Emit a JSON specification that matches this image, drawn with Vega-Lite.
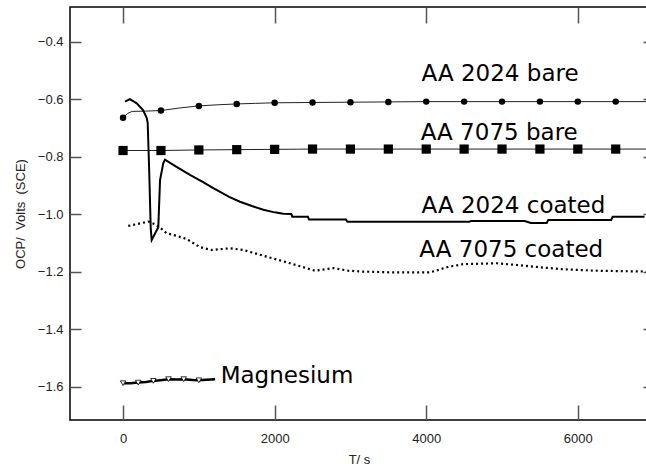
{
  "$schema": "https://vega.github.io/schema/vega-lite/v6.json",
  "width": 578,
  "height": 413,
  "autosize": {"type": "none"},
  "padding": {"left": 70, "top": 7, "right": 0, "bottom": 51},
  "background": "white",
  "config": {
    "view": {"stroke": "#000", "strokeWidth": 1.5},
    "axis": {"grid": false}
  },
  "datasets": {
    "b2024": [
      {"t": 0, "v": -0.665}, {"t": 60, "v": -0.65}, {"t": 120, "v": -0.643}, {"t": 300, "v": -0.642},
      {"t": 500, "v": -0.64}, {"t": 750, "v": -0.631}, {"t": 1000, "v": -0.624}, {"t": 1250, "v": -0.62},
      {"t": 1500, "v": -0.617}, {"t": 1750, "v": -0.615}, {"t": 2000, "v": -0.613}, {"t": 2500, "v": -0.612},
      {"t": 3000, "v": -0.611}, {"t": 3500, "v": -0.61}, {"t": 4000, "v": -0.609}, {"t": 4500, "v": -0.609},
      {"t": 5000, "v": -0.609}, {"t": 5500, "v": -0.609}, {"t": 6000, "v": -0.609}, {"t": 6500, "v": -0.609},
      {"t": 6926, "v": -0.609}
    ],
    "b7075": [
      {"t": 0, "v": -0.779}, {"t": 500, "v": -0.779}, {"t": 1000, "v": -0.777}, {"t": 1500, "v": -0.776},
      {"t": 2000, "v": -0.775}, {"t": 2500, "v": -0.774}, {"t": 3000, "v": -0.774}, {"t": 3500, "v": -0.774},
      {"t": 4000, "v": -0.774}, {"t": 4500, "v": -0.774}, {"t": 5000, "v": -0.774}, {"t": 5500, "v": -0.774},
      {"t": 6000, "v": -0.774}, {"t": 6500, "v": -0.774}, {"t": 6926, "v": -0.774}
    ],
    "c2024": [
      {"t": 25, "v": -0.609}, {"t": 90, "v": -0.6}, {"t": 180, "v": -0.615}, {"t": 263, "v": -0.638},
      {"t": 312, "v": -0.665}, {"t": 325, "v": -0.683}, {"t": 345, "v": -0.85}, {"t": 365, "v": -1.05},
      {"t": 378, "v": -1.09}, {"t": 465, "v": -1.046}, {"t": 488, "v": -0.882}, {"t": 531, "v": -0.823},
      {"t": 553, "v": -0.811}, {"t": 700, "v": -0.835}, {"t": 883, "v": -0.864}, {"t": 1050, "v": -0.888},
      {"t": 1191, "v": -0.91}, {"t": 1400, "v": -0.94}, {"t": 1543, "v": -0.957}, {"t": 1700, "v": -0.972},
      {"t": 1851, "v": -0.985}, {"t": 2000, "v": -0.994}, {"t": 2115, "v": -0.999}, {"t": 2220, "v": -1.0},
      {"t": 2233, "v": -1.009}, {"t": 2440, "v": -1.009}, {"t": 2453, "v": -1.019}, {"t": 2940, "v": -1.019},
      {"t": 2960, "v": -1.027}, {"t": 4570, "v": -1.027}, {"t": 4590, "v": -1.024}, {"t": 5300, "v": -1.024},
      {"t": 5380, "v": -1.031}, {"t": 5590, "v": -1.031}, {"t": 5610, "v": -1.021}, {"t": 6440, "v": -1.021},
      {"t": 6460, "v": -1.009}, {"t": 6880, "v": -1.009}
    ],
    "c7075": [
      {"t": 69, "v": -1.041}, {"t": 200, "v": -1.034}, {"t": 333, "v": -1.026}, {"t": 420, "v": -1.035},
      {"t": 510, "v": -1.052}, {"t": 576, "v": -1.067}, {"t": 700, "v": -1.075}, {"t": 840, "v": -1.087},
      {"t": 1015, "v": -1.115}, {"t": 1170, "v": -1.125}, {"t": 1411, "v": -1.119}, {"t": 1587, "v": -1.125},
      {"t": 1895, "v": -1.148}, {"t": 2203, "v": -1.171}, {"t": 2533, "v": -1.197}, {"t": 2775, "v": -1.188},
      {"t": 2973, "v": -1.197}, {"t": 3170, "v": -1.2}, {"t": 3600, "v": -1.203}, {"t": 4050, "v": -1.203},
      {"t": 4270, "v": -1.185}, {"t": 4490, "v": -1.174}, {"t": 4930, "v": -1.171}, {"t": 5194, "v": -1.177},
      {"t": 5500, "v": -1.185}, {"t": 5810, "v": -1.192}, {"t": 6250, "v": -1.197}, {"t": 6926, "v": -1.2}
    ],
    "mg": [
      {"t": 0, "v": -1.588}, {"t": 100, "v": -1.588}, {"t": 200, "v": -1.586}, {"t": 300, "v": -1.584},
      {"t": 400, "v": -1.58}, {"t": 520, "v": -1.577}, {"t": 600, "v": -1.574}, {"t": 720, "v": -1.575},
      {"t": 800, "v": -1.574}, {"t": 920, "v": -1.577}, {"t": 1000, "v": -1.578}, {"t": 1100, "v": -1.576},
      {"t": 1215, "v": -1.574}
    ],
    "labels": [
      {"label": "AA 2024 bare", "t": 3938, "v": -0.539},
      {"label": "AA 7075 bare", "t": 3927, "v": -0.744},
      {"label": "AA 2024 coated", "t": 3938, "v": -0.997},
      {"label": "AA 7075 coated", "t": 3909, "v": -1.15},
      {"label": "Magnesium", "t": 1288, "v": -1.588}
    ]
  },
  "encoding": {
    "x": {"field": "t", "type": "quantitative", "scale": {"domain": [-700, 6926], "nice": false, "zero": false}},
    "y": {"field": "v", "type": "quantitative", "scale": {"domain": [-1.716, -0.28], "nice": false, "zero": false}}
  },
  "layer": [
    {
      "data": {"name": "b2024"},
      "mark": {"type": "line", "color": "#222", "strokeWidth": 1},
      "encoding": {
        "x": {"field": "t", "type": "quantitative", "axis": {
          "orient": "bottom", "values": [0, 2000, 4000, 6000], "format": "d",
          "domain": false, "offset": -15, "tickSize": 15, "tickColor": "#555", "tickWidth": 1.5,
          "labelPadding": 12, "labelFont": "Liberation Sans", "labelFontSize": 13, "labelColor": "#222",
          "title": "T/ s", "titlePadding": 8, "titleFont": "Liberation Sans", "titleFontSize": 13,
          "titleFontWeight": "normal", "titleColor": "#222"}},
        "y": {"field": "v", "type": "quantitative", "axis": {
          "orient": "left", "values": [-1.6, -1.4, -1.2, -1.0, -0.8, -0.6, -0.4], "format": ".1f",
          "domain": false, "offset": -11, "tickSize": 11, "tickColor": "#555", "tickWidth": 1.5,
          "labelPadding": 7, "labelFont": "Liberation Sans", "labelFontSize": 13, "labelColor": "#222",
          "title": "OCP/\u00a0 Volts\u00a0 (SCE)", "titlePadding": 10, "titleFont": "Liberation Sans",
          "titleFontSize": 13, "titleFontWeight": "normal", "titleColor": "#222"}}
      }
    },
    {
      "data": {"name": "b2024"},
      "transform": [{"filter": "datum.t % 500 == 0"}],
      "mark": {"type": "point", "shape": "circle", "filled": true, "color": "#000", "size": 42, "opacity": 1},
      "encoding": {
        "x": {"field": "t", "type": "quantitative", "axis": {
          "orient": "top", "values": [0, 2000, 4000, 6000], "domain": false, "labels": false,
          "offset": -16, "tickSize": 16, "tickColor": "#555", "tickWidth": 1.5, "title": null}},
        "y": {"field": "v", "type": "quantitative", "axis": {
          "orient": "right", "values": [-1.6, -1.4, -1.2, -1.0, -0.8, -0.6, -0.4], "domain": false, "labels": false,
          "offset": -5, "tickSize": 5, "tickColor": "#555", "tickWidth": 1.5, "title": null}}
      }
    },
    {
      "data": {"name": "b7075"},
      "mark": {"type": "line", "color": "#222", "strokeWidth": 1},
      "encoding": {"x": {"field": "t", "type": "quantitative", "axis": null}, "y": {"field": "v", "type": "quantitative", "axis": null}}
    },
    {
      "data": {"name": "b7075"},
      "transform": [{"filter": "datum.t % 500 == 0"}],
      "mark": {"type": "point", "shape": "square", "filled": true, "color": "#000", "size": 85, "opacity": 1},
      "encoding": {"x": {"field": "t", "type": "quantitative", "axis": null}, "y": {"field": "v", "type": "quantitative", "axis": null}}
    },
    {
      "data": {"name": "c2024"},
      "mark": {"type": "line", "color": "#000", "strokeWidth": 2},
      "encoding": {"x": {"field": "t", "type": "quantitative", "axis": null}, "y": {"field": "v", "type": "quantitative", "axis": null}}
    },
    {
      "data": {"name": "c7075"},
      "mark": {"type": "line", "color": "#000", "strokeWidth": 2.2, "strokeDash": [2, 3]},
      "encoding": {"x": {"field": "t", "type": "quantitative", "axis": null}, "y": {"field": "v", "type": "quantitative", "axis": null}}
    },
    {
      "data": {"name": "mg"},
      "mark": {"type": "line", "color": "#000", "strokeWidth": 2.5},
      "encoding": {"x": {"field": "t", "type": "quantitative", "axis": null}, "y": {"field": "v", "type": "quantitative", "axis": null}}
    },
    {
      "data": {"name": "mg"},
      "transform": [{"filter": "datum.t % 200 == 0"}],
      "mark": {"type": "point", "shape": "triangle-down", "filled": true, "fill": "white", "stroke": "#000", "strokeWidth": 0.8, "size": 30, "opacity": 1},
      "encoding": {"x": {"field": "t", "type": "quantitative", "axis": null}, "y": {"field": "v", "type": "quantitative", "axis": null}}
    },
    {
      "data": {"name": "labels"},
      "mark": {"type": "text", "font": "DejaVu Sans", "fontSize": 23, "align": "left", "baseline": "alphabetic", "color": "#000"},
      "encoding": {
        "x": {"field": "t", "type": "quantitative", "axis": null},
        "y": {"field": "v", "type": "quantitative", "axis": null},
        "text": {"field": "label"}
      }
    }
  ],
  "resolve": {"axis": {"x": "independent", "y": "independent"}}
}
